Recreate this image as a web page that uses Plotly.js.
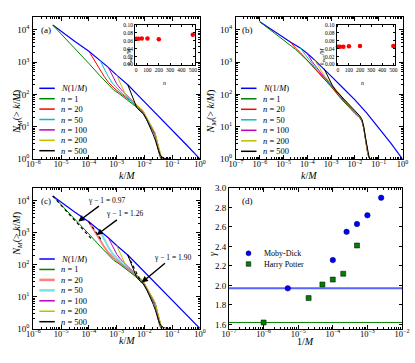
<!DOCTYPE html>
<html>
<head>
<meta charset="utf-8">
<script src="https://cdn.plot.ly/plotly-3.0.1.min.js"></script>
<style>html,body{margin:0;padding:0;background:#fff}#chart{width:415px;height:363px}</style>
</head>
<body>
<div id="chart"></div>
<script>
// all curve values are log10(k/M) and log10(N)

// Moby-Dick, panels (a) and (c)
const mobyBlueX = [-5.3, -5.0, -4.5, -4.0, -3.6, -3.3, -3.0, -2.6, -2.2, -1.5, -1.0, -0.5, 0];
const mobyBlueY = [4.15, 3.95, 3.64, 3.34, 3.06, 2.84, 2.60, 2.30, 1.95, 1.34, 0.90, 0.45, 0];
const mobyN1X = [-5.3, -5.0, -4.7, -4.4, -4.0, -3.6, -3.4, -3.24, -3.1, -2.95, -2.8, -2.65, -2.5, -2.35, -2.2, -2.05, -1.92, -1.8, -1.7, -1.62, -1.56, -1.51, -1.45, -1.40];
const mobyN1Y = [4.15, 3.88, 3.60, 3.33, 2.96, 2.58, 2.40, 2.24, 2.13, 2.05, 1.95, 1.86, 1.76, 1.67, 1.55, 1.42, 1.20, 1.02, 0.88, 0.74, 0.50, 0.28, 0.10, 0];
const mobyN20X = [-4.0, -3.8, -3.6, -3.45, -3.3, -3.1, -2.9, -2.7, -2.5, -2.3, -2.15, -2.02, -1.9, -1.8, -1.7, -1.62, -1.56, -1.5, -1.44, -1.38];
const mobyN20Y = [3.34, 3.04, 2.75, 2.56, 2.38, 2.20, 2.06, 1.93, 1.80, 1.64, 1.53, 1.40, 1.20, 1.04, 0.90, 0.76, 0.52, 0.30, 0.11, 0];
const mobyN50X = [-3.6, -3.45, -3.3, -3.15, -3.0, -2.8, -2.6, -2.4, -2.2, -2.05, -1.92, -1.8, -1.7, -1.62, -1.55, -1.49, -1.43, -1.36];
const mobyN50Y = [3.06, 2.80, 2.55, 2.35, 2.20, 2.03, 1.90, 1.74, 1.58, 1.45, 1.24, 1.06, 0.92, 0.78, 0.53, 0.30, 0.11, 0];
const mobyN100X = [-3.3, -3.15, -3.0, -2.85, -2.65, -2.45, -2.25, -2.05, -1.92, -1.8, -1.7, -1.62, -1.55, -1.48, -1.42, -1.34];
const mobyN100Y = [2.84, 2.58, 2.33, 2.16, 1.98, 1.82, 1.65, 1.48, 1.27, 1.08, 0.94, 0.80, 0.56, 0.32, 0.12, 0];
const mobyN200X = [-3.0, -2.85, -2.7, -2.55, -2.4, -2.2, -2.05, -1.92, -1.8, -1.7, -1.62, -1.55, -1.48, -1.41, -1.32];
const mobyN200Y = [2.60, 2.30, 2.03, 1.89, 1.78, 1.62, 1.50, 1.29, 1.10, 0.96, 0.82, 0.58, 0.34, 0.13, 0];
const mobyN500X = [-2.6, -2.45, -2.28, -2.15, -2.04, -1.92, -1.8, -1.68, -1.6, -1.55, -1.49, -1.42, -1.32, -1.2, -1.08];
const mobyN500Y = [2.30, 1.95, 1.60, 1.48, 1.40, 1.22, 1.00, 0.75, 0.56, 0.40, 0.25, 0.10, 0.03, 0, 0];

// Harry Potter, panel (b)
const potterBlueX = [-6.0, -5.5, -5.0, -4.7, -4.3, -4.0, -3.7, -3.3, -3.0, -2.5, -2.0, -1.5, -1.0, -0.5, 0];
const potterBlueY = [4.25, 4.00, 3.76, 3.62, 3.44, 3.27, 3.07, 2.80, 2.57, 2.20, 1.83, 1.42, 0.97, 0.50, 0];
const potterN1X = [-6.0, -5.5, -5.0, -4.5, -4.0, -3.5, -3.0, -2.6, -2.3, -2.0, -1.8, -1.7, -1.62, -1.56, -1.5, -1.45, -1.39, -1.33];
const potterN1Y = [4.25, 3.97, 3.70, 3.40, 3.05, 2.66, 2.24, 1.88, 1.64, 1.41, 1.28, 1.16, 0.91, 0.61, 0.36, 0.13, 0.03, 0];
const potterN20X = [-4.7, -4.5, -4.3, -4.1, -3.8, -3.5, -3.0, -2.6, -2.3, -2.0, -1.8, -1.7, -1.62, -1.56, -1.5, -1.45, -1.38, -1.34];
const potterN20Y = [3.62, 3.44, 3.30, 3.14, 2.90, 2.68, 2.26, 1.90, 1.66, 1.43, 1.29, 1.17, 0.92, 0.62, 0.36, 0.13, 0.02, 0];
const potterN50X = [-4.3, -4.1, -3.9, -3.7, -3.5, -3.0, -2.6, -2.3, -2.0, -1.8, -1.7, -1.62, -1.56, -1.5, -1.45, -1.38, -1.34];
const potterN50Y = [3.44, 3.24, 3.04, 2.86, 2.70, 2.28, 1.92, 1.67, 1.44, 1.30, 1.18, 0.93, 0.63, 0.37, 0.14, 0.02, 0];
const potterN100X = [-4.0, -3.8, -3.6, -3.4, -3.0, -2.6, -2.3, -2.0, -1.8, -1.7, -1.62, -1.56, -1.5, -1.45, -1.38, -1.34];
const potterN100Y = [3.27, 3.02, 2.83, 2.64, 2.30, 1.94, 1.69, 1.45, 1.31, 1.19, 0.94, 0.64, 0.38, 0.15, 0.02, 0];
const potterN200X = [-3.7, -3.5, -3.3, -3.1, -2.8, -2.6, -2.3, -2.0, -1.8, -1.7, -1.62, -1.56, -1.5, -1.45, -1.38, -1.34];
const potterN200Y = [3.07, 2.82, 2.60, 2.42, 2.15, 1.97, 1.71, 1.47, 1.32, 1.20, 0.95, 0.66, 0.40, 0.16, 0.03, 0];
const potterN500X = [-3.3, -3.1, -2.95, -2.8, -2.6, -2.3, -2.0, -1.8, -1.7, -1.62, -1.56, -1.5, -1.45, -1.4, -1.35];
const potterN500Y = [2.80, 2.50, 2.28, 2.12, 1.97, 1.73, 1.49, 1.34, 1.22, 0.97, 0.68, 0.42, 0.18, 0.04, 0];

// power-law fits in (c), start and end points
const fitX = [[-5.3, -3.9], [-4.0, -3.55], [-2.6, -2.12]];
const fitY = [[4.15, 2.80], [3.34, 2.77], [2.30, 1.45]];
const fitLabels = ['γ − 1 = 0.97', 'γ − 1 = 1.26', 'γ − 1 = 1.90'];

// insets: k_max/M against n
const insetN = [1, 20, 50, 100, 200, 500];
const kmaxMoby = [0.065, 0.065, 0.066, 0.066, 0.064, 0.075];
const kmaxPotter = [0.045, 0.045, 0.045, 0.046, 0.047, 0.047];

// panel (d): gamma against 1/M
const gammaMobyX = [5e-6, 1e-4, 2.5e-4, 5e-4, 1e-3, 2.5e-3];
const gammaMoby = [1.97, 2.26, 2.55, 2.63, 2.72, 2.90];
const gammaPotterX = [1e-6, 2e-5, 5e-5, 1e-4, 2e-4, 5e-4];
const gammaPotter = [1.62, 1.87, 2.01, 2.06, 2.12, 2.41];
const gammaMobyRef = 1.97;
const gammaPotterRef = 1.62;

const seriesLabels = ['<i>N</i>(1/<i>M</i>)', '<i>n</i> = 1', '<i>n</i> = 20', '<i>n</i> = 50', '<i>n</i> = 100', '<i>n</i> = 200', '<i>n</i> = 500'];
const colors = ['#0000ff', '#008000', '#ff0000', '#00bfbf', '#bf00bf', '#bfbf00', '#000000'];

const W = 415, H = 363;
const fx = p => p / W;
const fy = p => 1 - p / H;
const FONT = 'Liberation Serif, Times New Roman, serif';
const pow10 = a => a.map(v => Math.pow(10, v));

const mobyX = [mobyBlueX, mobyN1X, mobyN20X, mobyN50X, mobyN100X, mobyN200X, mobyN500X];
const mobyY = [mobyBlueY, mobyN1Y, mobyN20Y, mobyN50Y, mobyN100Y, mobyN200Y, mobyN500Y];
const potterX = [potterBlueX, potterN1X, potterN20X, potterN50X, potterN100X, potterN200X, potterN500X];
const potterY = [potterBlueY, potterN1Y, potterN20Y, potterN50Y, potterN100Y, potterN200Y, potterN500Y];

const traces = [];
function addCurves(xs, ys, xa, ya, pale) {
  xs.forEach((xv, i) => {
    let col = colors[i], w = 1;
    if (pale && (i === 2 || i === 3)) { col = i === 2 ? 'rgba(255,0,0,0.5)' : 'rgba(0,191,191,0.5)'; w = 2; }
    traces.push({x: pow10(xv), y: pow10(ys[i]), xaxis: xa, yaxis: ya, mode: 'lines',
      line: {color: col, width: i === 0 ? 1.2 : w}, hoverinfo: 'skip'});
  });
}
addCurves(mobyX, mobyY, 'x', 'y', false);
addCurves(potterX, potterY, 'x2', 'y2', false);
addCurves(mobyX, mobyY, 'x3', 'y3', true);
fitX.forEach((fxv, i) => {
  traces.push({x: pow10(fxv), y: pow10(fitY[i]), xaxis: 'x3', yaxis: 'y3', mode: 'lines',
    line: {color: '#000', width: 1.2, dash: 'dot'}, hoverinfo: 'skip'});
});

// reference lines and gamma points in (d)
traces.push({x: [1e-7, 1e-2], y: [gammaMobyRef, gammaMobyRef], xaxis: 'x4', yaxis: 'y4', mode: 'lines',
  line: {color: 'rgba(30,50,255,0.75)', width: 2}});
traces.push({x: [1e-7, 1e-2], y: [gammaPotterRef, gammaPotterRef], xaxis: 'x4', yaxis: 'y4', mode: 'lines',
  line: {color: '#008000', width: 1}});
traces.push({x: gammaMobyX, y: gammaMoby, xaxis: 'x4', yaxis: 'y4', mode: 'markers',
  marker: {symbol: 'circle', size: 5.5, color: '#0000ff', line: {color: '#000060', width: 0.5}}});
traces.push({x: gammaPotterX, y: gammaPotter, xaxis: 'x4', yaxis: 'y4', mode: 'markers',
  marker: {symbol: 'square', size: 5, color: '#008000', line: {color: '#000', width: 0.5}}});

// insets
traces.push({x: insetN, y: kmaxMoby, xaxis: 'x5', yaxis: 'y5', mode: 'markers',
  marker: {size: 4.5, color: '#ff0000'}, cliponaxis: false});
traces.push({x: insetN, y: kmaxPotter, xaxis: 'x6', yaxis: 'y6', mode: 'markers',
  marker: {size: 4.5, color: '#ff0000'}, cliponaxis: false});

function powText(p) { return '10<sup>' + (p < 0 ? '\u2212' + (-p) : p) + '</sup>'; }
function logAxis(lo, hi, domain, anchor) {
  const vals = [], text = [], minor = [];
  for (let p = lo; p <= hi; p++) {
    vals.push(Math.pow(10, p)); text.push(powText(p));
    if (p < hi) for (let m = 2; m <= 9; m++) minor.push(m * Math.pow(10, p));
  }
  return {type: 'log', range: [lo, hi], domain: domain, anchor: anchor,
    tickmode: 'array', tickvals: vals, ticktext: text,
    minor: {tickmode: 'array', tickvals: minor, ticks: 'inside', ticklen: 2, tickcolor: '#000'},
    ticks: 'inside', ticklen: 4, tickcolor: '#000', showline: true, linecolor: '#000', linewidth: 1,
    mirror: 'ticks', showgrid: false, zeroline: false, automargin: false,
    tickfont: {family: FONT, size: 9, color: '#000'}};
}
function linAxis(range, dtick, fmt, domain, anchor, size) {
  return {type: 'linear', range: range, dtick: dtick, tickformat: fmt, domain: domain, anchor: anchor,
    ticks: 'inside', ticklen: 3, tickcolor: '#000', showline: true, linecolor: '#000', linewidth: 1,
    mirror: 'ticks', showgrid: false, zeroline: false, automargin: false,
    tickfont: {family: FONT, size: size, color: '#000'}};
}

const yTop = [fy(159), fy(17)];
const yBot = [fy(328.5), fy(188)];
const yMain = [0, 4.4];

const layout = {
  width: W, height: H, margin: {l: 0, r: 0, t: 0, b: 0},
  paper_bgcolor: '#fff', plot_bgcolor: 'rgba(0,0,0,0)', showlegend: false,
  font: {family: FONT, color: '#000'},
  xaxis: logAxis(-6, 0, [fx(33.3), fx(200)], 'y'),
  yaxis: Object.assign(logAxis(0, 4, yTop, 'x'), {range: yMain}),
  xaxis2: logAxis(-7, 0, [fx(236), fx(402.5)], 'y2'),
  yaxis2: Object.assign(logAxis(0, 4, yTop, 'x2'), {range: yMain}),
  xaxis3: logAxis(-6, 0, [fx(33.3), fx(200)], 'y3'),
  yaxis3: Object.assign(logAxis(0, 4, yBot, 'x3'), {range: yMain}),
  xaxis4: logAxis(-7, -2, [fx(229), fx(402)], 'y4'),
  yaxis4: linAxis([1.558, 3.0], 0.2, '.1f', yBot, 'x4', 9),
  xaxis5: linAxis([-10, 515], 100, 'd', [fx(135), fx(194.5)], 'y5', 5.5),
  yaxis5: linAxis([0, 0.1], 0.02, '.2f', [fy(64.5), fy(25)], 'x5', 5.5),
  xaxis6: linAxis([-10, 515], 100, 'd', [fx(336.7), fx(395)], 'y6', 5.5),
  yaxis6: linAxis([0, 0.1], 0.02, '.2f', [fy(64.5), fy(25)], 'x6', 5.5),
  shapes: [], annotations: []
};
['xaxis', 'xaxis2', 'xaxis3', 'xaxis4'].forEach(k => {
  layout[k].ticklabelstandoff = -3;
  layout[k].tickfont = {family: FONT, size: 8.5, color: '#000'};
});
['yaxis', 'yaxis2', 'yaxis3'].forEach(k => { layout[k].ticklabelstandoff = 1; });
['xaxis5', 'yaxis5', 'xaxis6', 'yaxis6'].forEach(k => { layout[k].ticklen = 2; });

function note(x, y, text, size, opts) {
  layout.annotations.push(Object.assign({xref: 'paper', yref: 'paper', x: fx(x), y: fy(y), text: text,
    showarrow: false, font: {family: FONT, size: size, color: '#000'}}, opts || {}));
}

// hand-made legends (entries sit closer than the built-in legend allows)
function legend(x0, y0, dy, pale) {
  seriesLabels.forEach((lab, i) => {
    const yy = y0 + i * dy;
    let col = colors[i], w = 1.5;
    if (pale && (i === 2 || i === 3)) { col = i === 2 ? 'rgba(255,0,0,0.5)' : 'rgba(0,191,191,0.5)'; w = 2.5; }
    layout.shapes.push({type: 'line', xref: 'paper', yref: 'paper', x0: fx(x0), x1: fx(x0 + 15.5),
      y0: fy(yy), y1: fy(yy), line: {color: col, width: w}});
    note(x0 + 20, yy, lab, 8.5, {xanchor: 'left', yanchor: 'middle'});
  });
}
legend(39.3, 88.3, 10.4, false);
legend(241, 88.3, 10.5, false);
legend(39.3, 259, 10.45, true);

// legend of (d)
layout.shapes.push({type: 'circle', xref: 'paper', yref: 'paper', x0: fx(246), x1: fx(251), y0: fy(250.8), y1: fy(255.8),
  fillcolor: '#0000ff', line: {color: '#000060', width: 0.5}});
layout.shapes.push({type: 'rect', xref: 'paper', yref: 'paper', x0: fx(246.2), x1: fx(250.8), y0: fy(261.7), y1: fy(266.3),
  fillcolor: '#008000', line: {color: '#000', width: 0.5}});
note(261.5, 253.3, 'Moby-Dick', 8, {xanchor: 'left', yanchor: 'middle'});
note(261.5, 264, 'Harry Potter', 8, {xanchor: 'left', yanchor: 'middle'});

// panel letters
note(39, 30, '(a)', 9, {xanchor: 'left', yanchor: 'middle'});
note(240, 30, '(b)', 9, {xanchor: 'left', yanchor: 'middle'});
note(39, 201, '(c)', 9, {xanchor: 'left', yanchor: 'middle'});
note(240, 200.5, '(d)', 9, {xanchor: 'left', yanchor: 'middle'});

// axis titles
const yTitle = '<i>N<sub>M</sub></i>(&gt; <i>k</i>/<i>M</i>)';
note(8.3, 88, yTitle, 10, {textangle: -90});
note(210.5, 88, yTitle, 10, {textangle: -90});
note(8.3, 258, yTitle, 10, {textangle: -90});
note(212.5, 258, '<i>γ</i>', 10, {textangle: -90});
note(116.7, 175, '<i>k</i>/<i>M</i>', 10);
note(319, 175, '<i>k</i>/<i>M</i>', 10);
note(116.7, 348, '<i>k</i>/<i>M</i>', 10);
note(315.5, 348.5, '1/<i>M</i>', 10);
// inset titles
note(123.5, 45, '<i>k</i><sub>max</sub>/<i>M</i>', 6, {textangle: -90});
note(327.5, 45, '<i>k</i><sub>max</sub>/<i>M</i>', 6, {textangle: -90});
note(164.7, 78.3, '<i>n</i>', 6);
note(366, 78.3, '<i>n</i>', 6);

// arrows pointing at the fitted stretches in (c): tip and text centre, both in log10 units
const tips = [[-4.38, 3.35, -3.35, 4.02], [-3.72, 2.93, -2.70, 3.59], [-2.1, 1.44, -1.0, 2.23]];
tips.forEach((t, i) => {
  layout.annotations.push({xref: 'x3', yref: 'y3', axref: 'x3', ayref: 'y3', x: t[0], y: t[1], ax: t[2], ay: t[3],
    text: fitLabels[i], showarrow: true, arrowhead: 2, arrowsize: 0.9, arrowwidth: 1.4, arrowcolor: '#000',
    font: {family: FONT, size: 7.5, color: '#000'}});
});

Plotly.newPlot('chart', traces, layout, {staticPlot: true});
</script>
</body>
</html>
